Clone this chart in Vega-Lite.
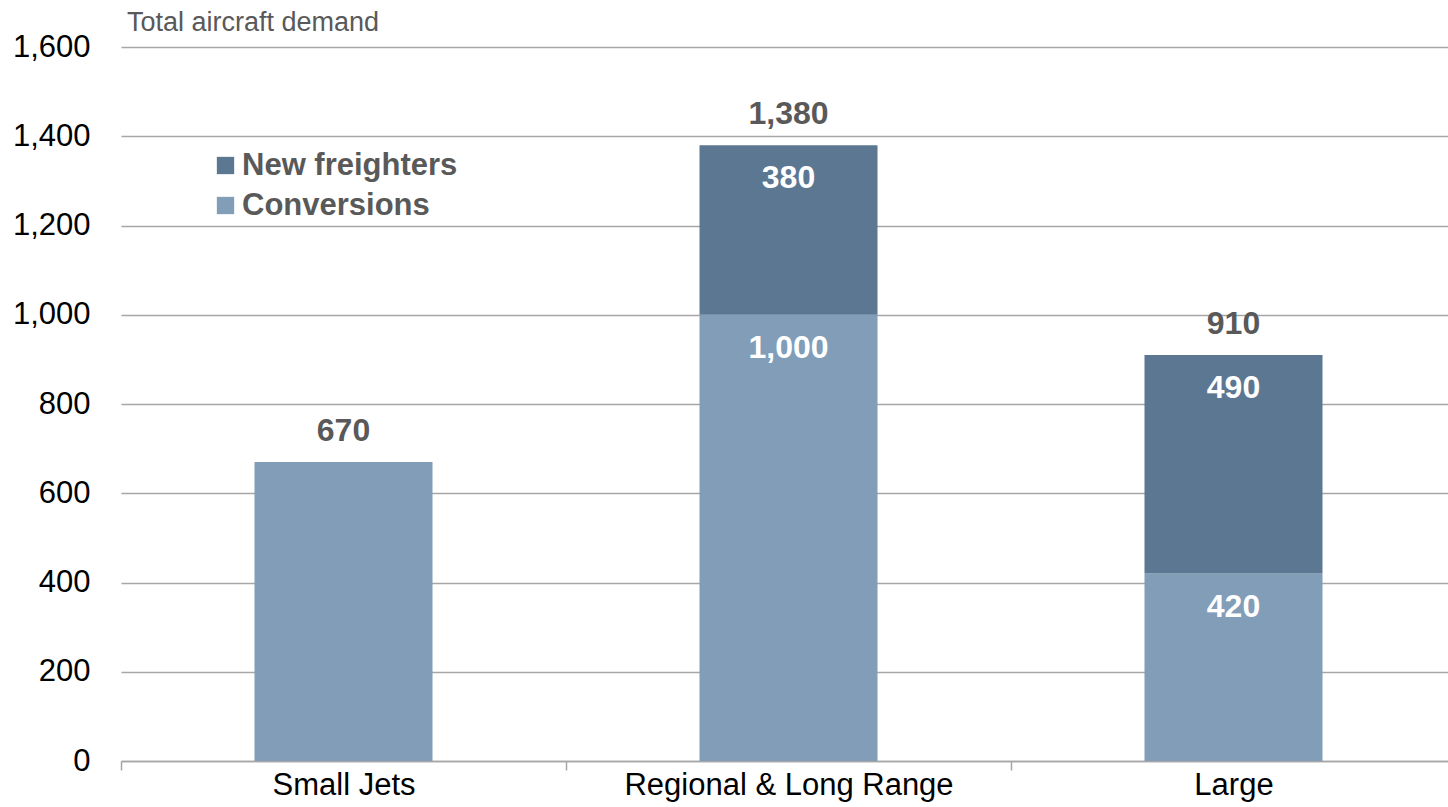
{
  "$schema": "https://vega.github.io/schema/vega-lite/v6.json",
  "width": 1335,
  "height": 714,
  "autosize": {"type": "none"},
  "padding": {"left": 121, "top": 47, "right": 0, "bottom": 46},
  "background": "white",
  "title": {
    "text": "Total aircraft demand",
    "anchor": "start",
    "frame": "group",
    "orient": "top",
    "offset": -27,
    "dx": 6,
    "fontSize": 27,
    "font": "Liberation Sans",
    "fontWeight": "normal",
    "color": "#595959",
    "baseline": "alphabetic"
  },
  "config": {"view": {"stroke": null}, "font": "Liberation Sans"},
  "data": {
    "values": [
      {"category": "Small Jets", "series": "Conversions", "value": 670},
      {"category": "Regional & Long Range", "series": "Conversions", "value": 1000},
      {"category": "Regional & Long Range", "series": "New freighters", "value": 380},
      {"category": "Large", "series": "Conversions", "value": 420},
      {"category": "Large", "series": "New freighters", "value": 490}
    ]
  },
  "transform": [
    {"stack": "value", "groupby": ["category"], "sort": [{"field": "series", "order": "ascending"}], "as": ["v0", "v1"]},
    {"joinaggregate": [{"op": "count", "as": "n"}, {"op": "sum", "field": "value", "as": "total"}], "groupby": ["category"]}
  ],
  "encoding": {
    "x": {
      "field": "category",
      "type": "nominal",
      "sort": ["Small Jets", "Regional & Long Range", "Large"],
      "scale": {"paddingInner": 0.6, "paddingOuter": 0.3},
      "axis": {
        "title": null,
        "labelFontSize": 31,
        "labelColor": "black",
        "labelAngle": 0,
        "labelLimit": 0,
        "domainColor": "#a6a6a6",
        "domainWidth": 1.5,
        "tickColor": "#a6a6a6",
        "tickWidth": 1.5,
        "tickSize": 9,
        "tickOffset": -222.5,
        "labelOffset": 222.5,
        "labelPadding": 0,
        "grid": false
      }
    }
  },
  "layer": [
    {
      "mark": {"type": "bar"},
      "encoding": {
        "y": {
          "field": "v1",
          "type": "quantitative",
          "scale": {"domain": [0, 1600]},
          "axis": {
            "title": null,
            "values": [0, 200, 400, 600, 800, 1000, 1200, 1400, 1600],
            "format": ",.0f",
            "labelFontSize": 31,
            "labelColor": "black",
            "domain": false,
            "ticks": false,
            "tickSize": 0,
            "labelPadding": 31,
            "gridColor": "#a6a6a6",
            "gridWidth": 1.5
          }
        },
        "y2": {"field": "v0"},
        "color": {
          "field": "series",
          "type": "nominal",
          "scale": {"domain": ["New freighters", "Conversions"], "range": ["#5c7791", "#829db8"]},
          "legend": {
            "orient": "none",
            "legendX": 89,
            "legendY": 103,
            "title": null,
            "symbolType": "square",
            "symbolSize": 300,
            "symbolStrokeWidth": 0,
            "symbolOpacity": 1,
            "labelFontSize": 31,
            "labelFontWeight": "bold",
            "labelColor": "#595959",
            "labelOffset": 1,
            "labelLimit": 0,
            "rowPadding": 8,
            "padding": 0
          }
        }
      }
    },
    {
      "transform": [{"filter": "datum.n > 1"}],
      "mark": {"type": "text", "baseline": "middle", "dy": 33, "fontSize": 32, "fontWeight": "bold", "color": "white"},
      "encoding": {
        "y": {"field": "v1", "type": "quantitative"},
        "text": {"field": "value", "type": "quantitative", "format": ",.0f"}
      }
    },
    {
      "transform": [{"filter": "datum.v1 == datum.total"}],
      "mark": {"type": "text", "baseline": "middle", "dy": -31, "fontSize": 32, "fontWeight": "bold", "color": "#595959"},
      "encoding": {
        "y": {"field": "total", "type": "quantitative"},
        "text": {"field": "total", "type": "quantitative", "format": ",.0f"}
      }
    }
  ]
}
